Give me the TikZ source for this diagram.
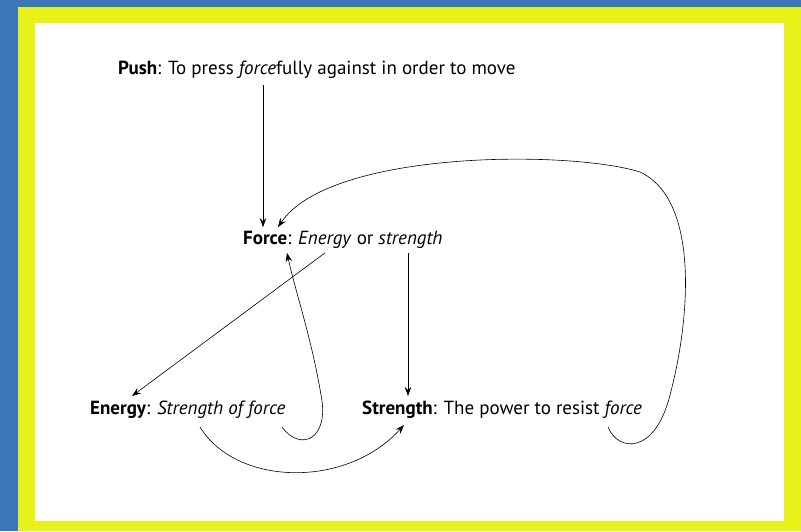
\documentclass[tikz,border=0pt]{standalone}
\usepackage{fontspec}
\setsansfont{PT Sans}
\usepackage{tikz}
\usetikzlibrary{arrows.meta,positioning}
\definecolor{slideblue}{HTML}{3C78B8}
\definecolor{frameyellow}{HTML}{E9F11A}

\begin{document}
\begin{tikzpicture}[x=1pt, y=-1pt,
  term/.style={anchor=west, inner sep=0pt, font=\sffamily\fontsize{19}{22}\selectfont},
  link/.style={-{Stealth[length=9pt,width=6.5pt,inset=3pt]}, line width=0.6pt},
]
  \useasboundingbox (0,0) rectangle (801,531);
  \fill[slideblue] (0,0) rectangle (801,531);
  \fill[frameyellow] (18,7) rectangle (801,531);
  \fill[white] (35,23) rectangle (784,521);

  \node[term] (push) at (118,70)
    {\textbf{Push}: To press \textit{force}fully against in order to move};
  \node[term] (force) at (243,240)
    {\textbf{Force}: \textit{Energy} or \textit{strength}};
  \node[term] (energy) at (90,410)
    {\textbf{Energy}: \textit{Strength of force}};
  \node[term] (strength) at (362,410)
    {\textbf{Strength}: The power to resist \textit{force}};

  \draw[link] ([xshift=145pt,yshift=-6pt]push.south west) -- ([xshift=20pt,yshift=4pt]force.north west);
  \draw[link] ([xshift=82pt,yshift=-4pt]force.south west) -- ([xshift=42pt,yshift=5pt]energy.north west);
  \draw[link] ([xshift=165pt,yshift=-4pt]force.south west) -- ([xshift=46pt,yshift=5pt]strength.north west);
  \draw[link] ([xshift=192pt,yshift=-8pt]energy.south west)
    .. controls (300,452) and (330,440) .. (321,395)
    .. controls (312,340) and (295,290) .. ([xshift=44pt,yshift=-4pt]force.south west);
  \draw[link] ([xshift=110pt,yshift=-8pt]energy.south west)
    .. controls (235,485) and (345,490) .. ([xshift=42pt,yshift=-6pt]strength.south west);
  \draw[link] ([xshift=246pt,yshift=-8pt]strength.south west)
    .. controls (618,452) and (655,455) .. (670,395)
    .. controls (690,320) and (700,200) .. (640,172)
    .. controls (570,150) and (330,150) .. ([xshift=35pt,yshift=4pt]force.north west);
\end{tikzpicture}
\end{document}
